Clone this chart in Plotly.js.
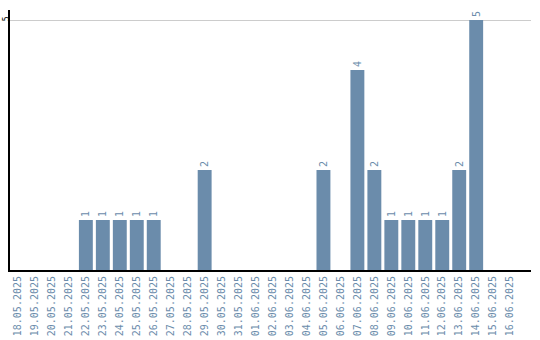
<!DOCTYPE html>
<html><head><meta charset="utf-8">
<script src="https://cdn.plot.ly/plotly-3.0.1.min.js"></script>
<style>html,body{margin:0;padding:0;background:#fff}#c{width:540px;height:340px}</style>
</head><body><div id="c"></div>
<script>
const dates = ["18.05.2025","19.05.2025","20.05.2025","21.05.2025","22.05.2025","23.05.2025","24.05.2025","25.05.2025","26.05.2025","27.05.2025","28.05.2025","29.05.2025","30.05.2025","31.05.2025","01.06.2025","02.06.2025","03.06.2025","04.06.2025","05.06.2025","06.06.2025","07.06.2025","08.06.2025","09.06.2025","10.06.2025","11.06.2025","12.06.2025","13.06.2025","14.06.2025","15.06.2025","16.06.2025"];
const counts = [0,0,0,0,1,1,1,1,1,0,0,2,0,0,0,0,0,0,2,0,4,2,1,1,1,1,2,5,0,0];
const barColor = "#6b8cab";
Plotly.newPlot("c", [{
  type: "bar", x: dates, y: counts,
  text: counts.map(v => v > 0 ? String(v) : ""),
  textposition: "outside", textangle: -90, cliponaxis: false,
  textfont: {family: "DejaVu Sans Mono", size: 10, color: barColor},
  marker: {color: barColor}, width: 0.82, hoverinfo: "none"
}], {
  width: 540, height: 340,
  margin: {l: 10, r: 9, t: 10, b: 70},
  paper_bgcolor: "#fff", plot_bgcolor: "#fff",
  showlegend: false,
  xaxis: {type: "category", range: [-0.47, 30.23], showline: true, linecolor: "#000", linewidth: 2,
    ticks: "", tickangle: -90, showgrid: false,
    tickfont: {family: "DejaVu Sans Mono", size: 10, color: barColor}},
  yaxis: {range: [0, 5.2], tickvals: [5], ticktext: ["5"], showline: true, linecolor: "#000", linewidth: 2,
    showgrid: true, gridcolor: "#cccccc", zeroline: false, ticks: "", tickangle: -90,
    ticklabelstandoff: -4,
    tickfont: {family: "DejaVu Sans Mono", size: 8, color: "#000"}}
}, {staticPlot: true});
</script></body></html>
